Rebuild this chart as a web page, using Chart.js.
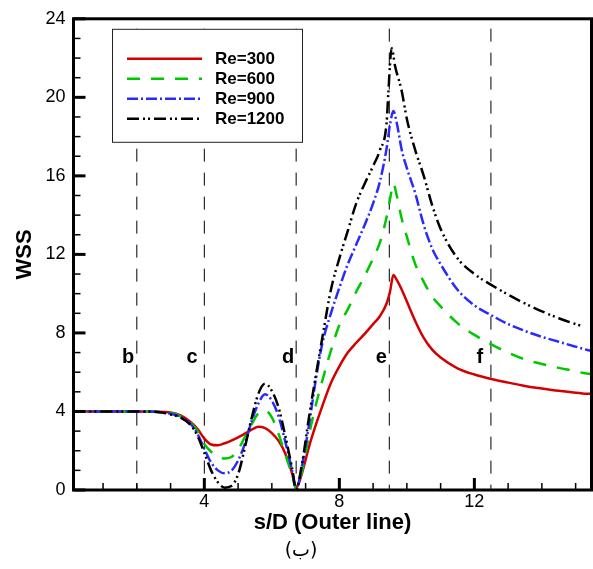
<!DOCTYPE html>
<html>
<head>
<meta charset="utf-8">
<script src="https://cdn.jsdelivr.net/npm/chart.js@4.4.1/dist/chart.umd.min.js"></script>
<style>
  html, body { margin: 0; padding: 0; background: #fff; }
  canvas { display: block; }
</style>
</head>
<body>
<canvas id="wss" width="593" height="569"></canvas>
<script>
// WSS along the outer line — Chart.js

const FONT = "'Liberation Sans', Arial, sans-serif";

const seriesLabels = ['Re=300', 'Re=600', 'Re=900', 'Re=1200'];

// s/D positions (shared by Re=300, 600, 900)
const sGrid = [0.12, 1, 2, 2.5, 3, 3.3, 3.6, 3.8, 4, 4.2, 4.4, 4.6, 4.8, 5, 5.2, 5.4, 5.6, 5.8,
  6, 6.2, 6.4, 6.6, 6.72, 6.9, 7.1, 7.3, 7.5, 7.75, 8, 8.25, 8.5, 8.75, 9, 9.2, 9.4, 9.5,
  9.6, 9.7, 9.85, 10, 10.25, 10.5, 10.75, 11, 11.5, 12, 12.5, 13, 13.5, 14, 14.5, 15, 15.2, 15.47];

const wss300 = [4, 4, 4, 3.99, 3.95, 3.8, 3.45, 3.1, 2.62, 2.32, 2.28, 2.38, 2.52, 2.68, 2.87, 3.07, 3.22, 3.15,
  2.9, 2.5, 1.85, 0.85, 0.1, 0.9, 2.2, 3.3, 4.3, 5.45, 6.3, 7.0, 7.5, 7.95, 8.45, 8.85, 9.5, 10.1,
  10.95, 10.7, 10.2, 9.6, 8.6, 7.75, 7.15, 6.75, 6.2, 5.88, 5.65, 5.47, 5.3, 5.17, 5.05, 4.95, 4.92, 4.9];

const wss600 = [4, 4, 4, 3.99, 3.93, 3.75, 3.4, 3.0, 2.35, 1.95, 1.72, 1.6, 1.68, 2.05, 2.7, 3.35, 3.9, 4.05,
  3.7, 2.85, 1.8, 0.75, 0.05, 1.0, 2.8, 4.3, 5.6, 7.1, 8.4, 9.2, 10.1, 10.9, 11.8, 12.6, 13.9, 14.8,
  15.6, 15.0, 13.8, 12.9, 11.5, 10.6, 9.85, 9.35, 8.5, 7.9, 7.42, 7.0, 6.65, 6.42, 6.22, 6.05, 5.97, 5.9];

const wss900 = [4, 4, 4, 3.99, 3.88, 3.72, 3.35, 2.85, 2.1, 1.4, 1.0, 0.85, 0.98, 1.5, 2.35, 3.5, 4.4, 4.88,
  4.55, 3.75, 2.45, 1.0, 0.05, 1.3, 3.3, 5.6, 7.5, 9.0, 10.3, 11.5, 12.5, 13.5, 14.6, 15.7, 17.4, 18.6,
  19.3, 18.7, 17.3, 16.4, 15.1, 13.5, 12.3, 11.5, 10.2, 9.4, 8.9, 8.45, 8.1, 7.8, 7.55, 7.3, 7.2, 7.08];

// Re=1200 peaks a little earlier and stops short of the right edge
const sGrid1200 = [0.12, 1, 2, 2.5, 3, 3.3, 3.6, 3.8, 4, 4.2, 4.4, 4.6, 4.8, 5, 5.2, 5.4, 5.6, 5.8,
  6, 6.2, 6.4, 6.6, 6.72, 6.9, 7.1, 7.3, 7.5, 7.75, 8, 8.25, 8.5, 8.75, 9, 9.2, 9.4, 9.45,
  9.55, 9.65, 9.85, 10, 10.25, 10.5, 10.75, 11, 11.5, 12, 12.5, 13, 13.5, 14, 14.5, 15, 15.2];

const wss1200 = [4, 4, 4, 3.99, 3.85, 3.68, 3.3, 2.75, 1.9, 1.0, 0.4, 0.12, 0.2, 0.8, 2.15, 3.65, 4.9, 5.42,
  5.05, 4.2, 2.75, 1.1, 0.05, 1.4, 3.7, 5.8, 7.8, 10.2, 11.8, 13.2, 14.6, 15.6, 16.5, 17.3, 18.7, 20.2,
  22.5, 21.6, 20.3, 18.9, 17.3, 16.0, 14.5, 13.3, 11.8, 11.0, 10.45, 9.95, 9.5, 9.1, 8.75, 8.45, 8.35];

// vertical section lines b..f
const sectionX = [2, 4, 6.72, 9.48, 12.49];
const sectionLabels = ['b', 'c', 'd', 'e', 'f'];
const sectionLabelX = [1.74, 3.64, 6.48, 9.24, 12.16];
const sectionLabelY = 6.48;
const sectionTop = 23.5;

const xTicks = [4, 8, 12];
const yTicks = [0, 4, 8, 12, 16, 20, 24];

const toPoints = (xs, ys) => xs.map((x, i) => ({ x, y: ys[i] }));

const curveStyles = [
  { color: '#d40000', dash: [] },
  { color: '#00c800', dash: [13, 11] },
  { color: '#2a2aff', dash: [11, 3, 2, 3] },
  { color: '#000000', dash: [12, 4, 2, 3, 2, 4] },
];

const curveData = [
  toPoints(sGrid, wss300),
  toPoints(sGrid, wss600),
  toPoints(sGrid, wss900),
  toPoints(sGrid1200, wss1200),
];

const datasets = curveData.map((data, i) => ({
  label: seriesLabels[i],
  data,
  borderColor: curveStyles[i].color,
  borderDash: curveStyles[i].dash,
  borderWidth: 2.5,
  pointRadius: 0,
  cubicInterpolationMode: 'monotone',
  fill: false,
  order: 4 - i,
}));

sectionX.forEach((x) => {
  datasets.push({
    label: '',
    data: [{ x, y: sectionTop }, { x, y: 0 }],
    borderColor: '#000',
    borderWidth: 1,
    borderDash: [13, 11],
    pointRadius: 0,
    tension: 0,
    order: 10,
  });
});

// frame, inward ticks, legend and section letters
const decorPlugin = {
  id: 'decor',
  afterDatasetsDraw(chart) {
    const { ctx, chartArea, scales } = chart;
    const { left, right, top, bottom } = chartArea;
    const xs = scales.x;
    const ys = scales.y;

    ctx.save();

    // section letters
    ctx.fillStyle = '#000';
    ctx.font = `bold 20px ${FONT}`;
    ctx.textAlign = 'center';
    ctx.textBaseline = 'alphabetic';
    sectionLabels.forEach((t, i) => {
      ctx.fillText(t, xs.getPixelForValue(sectionLabelX[i]), ys.getPixelForValue(sectionLabelY));
    });

    // legend box
    const bx = left + 38.5, by = top + 10, bw = 190, bh = 113;
    ctx.fillStyle = '#fff';
    ctx.fillRect(bx, by, bw, bh);
    ctx.strokeStyle = '#222';
    ctx.lineWidth = 1;
    ctx.strokeRect(bx + 0.5, by + 0.5, bw, bh);
    ctx.font = `bold 17px ${FONT}`;
    ctx.textAlign = 'left';
    ctx.textBaseline = 'middle';
    seriesLabels.forEach((label, i) => {
      const y = by + 30 + i * 20;
      ctx.beginPath();
      ctx.setLineDash(curveStyles[i].dash);
      ctx.strokeStyle = curveStyles[i].color;
      ctx.lineWidth = 2.5;
      ctx.moveTo(bx + 15, y);
      ctx.lineTo(bx + 90, y);
      ctx.stroke();
      ctx.setLineDash([]);
      ctx.fillStyle = '#000';
      ctx.fillText(label, bx + 103, y + 1);
    });

    // tick marks pointing inwards
    ctx.strokeStyle = '#000';
    for (let v = 0; v <= 24; v++) {
      const major = v % 4 === 0;
      const y = ys.getPixelForValue(v);
      ctx.beginPath();
      ctx.lineWidth = major ? 3 : 1.5;
      ctx.moveTo(left, y);
      ctx.lineTo(left + (major ? 12 : 7), y);
      ctx.stroke();
    }
    for (let v = 1; v <= 15; v++) {
      const major = xTicks.includes(v);
      const x = xs.getPixelForValue(v);
      ctx.beginPath();
      ctx.lineWidth = major ? 3 : 1.5;
      ctx.moveTo(x, bottom);
      ctx.lineTo(x, bottom - (major ? 12 : 7));
      ctx.stroke();
    }

    // frame
    ctx.lineWidth = 3;
    ctx.strokeRect(left, top, right - left, bottom - top);

    // sub caption
    ctx.font = `19px 'DejaVu Sans', ${FONT}`;
    ctx.textAlign = 'center';
    ctx.textBaseline = 'middle';
    ctx.fillStyle = '#000';
    ctx.fillText('(ب)', 301, 551);

    ctx.restore();
  },
};

new Chart(document.getElementById('wss'), {
  type: 'line',
  data: { datasets },
  plugins: [decorPlugin],
  options: {
    responsive: false,
    animation: false,
    events: [],
    layout: { padding: { top: 16, right: 1.5, bottom: 0, left: 0 } },
    plugins: {
      legend: { display: false },
      tooltip: { enabled: false },
    },
    scales: {
      x: {
        type: 'linear',
        min: 0.124,
        max: 15.47,
        afterBuildTicks: (scale) => { scale.ticks = xTicks.map((value) => ({ value })); },
        afterFit: (scale) => { scale.height = 79; },
        grid: { display: false, drawTicks: false },
        border: { display: false },
        ticks: {
          autoSkip: false,
          maxRotation: 0,
          padding: 1,
          color: '#000',
          font: { family: FONT, size: 18 },
        },
        title: {
          display: true,
          text: 's/D (Outer line)',
          color: '#000',
          font: { family: FONT, size: 22, weight: 'bold' },
          padding: { top: 0, bottom: 33 },
        },
      },
      y: {
        min: 0,
        max: 24,
        afterBuildTicks: (scale) => { scale.ticks = yTicks.map((value) => ({ value })); },
        afterFit: (scale) => { scale.width = 73.5; },
        grid: { display: false, drawTicks: false },
        border: { display: false },
        ticks: {
          padding: 8,
          color: '#000',
          font: { family: FONT, size: 18 },
        },
        title: {
          display: true,
          text: 'WSS',
          color: '#000',
          font: { family: FONT, size: 22, weight: 'bold' },
          padding: { top: 12, bottom: 0 },
        },
      },
    },
  },
});
</script>
</body>
</html>
